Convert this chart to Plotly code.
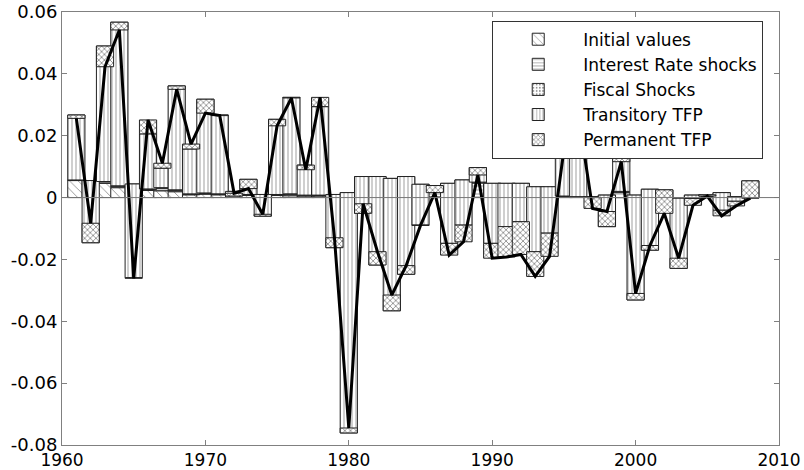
import numpy as np
import plotly.graph_objects as go

years = list(range(1961, 2009))

initial_values = [0.0055, 0.0050, 0.0046, 0.0032, 0.0034, 0.0023, 0.0022, 0.0019, 0.0009, 0.0011,
                  0.0009, 0.0011, 0.0007, 0.0007, 0.0007, 0.0006, 0.0005, 0.0005, 0.0005, 0.0004,
                  0.0004, 0.0003, 0.0003, 0.0003, 0.0002, 0.0002, 0.0002, 0.0002, 0.0001, 0.0001,
                  0.0001, 0.0001, 0.0001, 0.0001, 0.0001, 0.0001, 0.0, 0.0, 0.0, 0.0,
                  0.0, 0.0, 0.0, 0.0, 0.0, 0.0, 0.0, 0.0]

interest_rate = [0.0001, 0.0004, 0.0005, 0.0005, 0.0008, 0.0004, 0.0008, 0.0005, 0.0002, 0.0003,
                 0.0002, 0.0007, 0.0002, 0.0002, 0.0002, 0.0005, 0.0002, 0.0002, 0.0004, 0.0011,
                 0.0060, 0.0062, 0.0056, 0.0062, 0.0038, 0.0030, 0.0041, 0.0052, 0.0046, 0.0042,
                 0.0042, 0.0042, 0.0031, 0.0031, 0.0003, 0.0001, 0.0002, 0.0006, 0.0016, 0.0006,
                 0.0022, 0.0008, -0.0003, 0.0006, 0.0004, 0.0013, 0.0002, 0.0]

fiscal = [0.0001, 0.0001, 0.0001, 0.0001, 0.0002, 0.0001, 0.0002, 0.0001, 0.0001, 0.0001,
          0.0001, 0.0002, 0.0001, 0.0001, 0.0001, 0.0001, 0.0001, 0.0001, 0.0001, 0.0001,
          0.0004, 0.0003, 0.0003, 0.0003, 0.0003, 0.0003, 0.0003, 0.0003, 0.0003, 0.0003,
          0.0003, 0.0003, 0.0003, 0.0003, 0.0001, 0.0001, 0.0001, 0.0002, 0.0004, 0.0002,
          0.0005, 0.0002, 0.0001, 0.0002, 0.0001, 0.0003, 0.0001, 0.0]

transitory_tfp = [0.0210, -0.0201, 0.0438, 0.0529, -0.0303, 0.0178, 0.0063, 0.0336, 0.0145, 0.0303,
                  0.0255, -0.0015, 0.0049, -0.0070, 0.0243, 0.0312, 0.0097, 0.0286, -0.0172, -0.0777,
                  -0.0119, -0.0286, -0.0428, -0.0316, -0.0132, 0.0004, -0.0194, -0.0146, 0.0047, -0.0194,
                  -0.0140, -0.0124, -0.0210, -0.0150, 0.0122, 0.0297, -0.0003, -0.0102, 0.0166, -0.0339,
                  -0.0197, 0.0015, -0.0227, -0.0011, 0.0004, -0.0057, -0.0015, 0.0054]

permanent_tfp = [-0.0011, 0.0063, -0.0067, -0.0025, -0.0002, 0.0045, 0.0016, -0.0011, 0.0016, -0.0045,
                 -0.0002, 0.0009, -0.0030, 0.0006, -0.0021, -0.0002, -0.0015, 0.0030, 0.0032, 0.0016,
                 0.0031, 0.0043, 0.0051, 0.0028, -0.0001, -0.0023, -0.0038, -0.0054, -0.0024, -0.0048,
                 -0.0098, -0.0106, -0.0080, -0.0075, 0.0027, -0.0030, -0.0035, 0.0049, -0.0070, 0.0021,
                 0.0015, -0.0076, 0.0033, -0.0022, -0.0004, -0.0018, -0.0015, -0.0056]

series_names = ["Initial values", "Interest Rate shocks", "Fiscal Shocks", "Transitory TFP", "Permanent TFP"]
series_values = [initial_values, interest_rate, fiscal, transitory_tfp, permanent_tfp]
patterns = [
    dict(shape="\\", size=6, solidity=0.15),
    dict(shape="-", size=4, solidity=0.22),
    dict(shape=".", size=4, solidity=0.25),
    dict(shape="|", size=4, solidity=0.22),
    dict(shape="x", size=4, solidity=0.4),
]

y_tickvals = [0.06, 0.04, 0.02, 0.0, -0.02, -0.04, -0.06, -0.08]
y_ticktext = ["0.06", "0.04", "0.02", "0", "-0.02", "-0.04", "-0.06", "-0.08"]
x_tickvals = [1960, 1970, 1980, 1990, 2000, 2010]
x_ticktext = ["1960", "1970", "1980", "1990", "2000", "2010"]

FONT = "DejaVu Sans, Arial, sans-serif"

fig = go.Figure()
cum = np.zeros(len(years))
for name, vals, pat in zip(series_names, series_values, patterns):
    v = np.array(vals)
    fig.add_trace(go.Bar(
        x=years, y=v, base=cum.copy(), name=name, width=1.2, opacity=1,
        marker=dict(color="white",
                    line=dict(color="#222222", width=1),
                    pattern=dict(fgcolor="#222222", bgcolor="white", fillmode="overlay", **pat)),
    ))
    cum = cum + v

fig.add_trace(go.Scatter(x=years, y=cum, mode="lines", line=dict(color="black", width=3),
                         showlegend=False, hoverinfo="skip"))

fig.add_shape(type="line", xref="paper", x0=0, x1=1, yref="y", y0=0, y1=0,
              line=dict(color="#777777", width=1), layer="above")

axis_common = dict(showline=True, linecolor="#808080", linewidth=1, mirror="ticks",
                   ticks="inside", ticklen=5, tickcolor="#808080", showgrid=False, zeroline=False,
                   automargin=False)

fig.update_layout(
    template="none",
    width=804, height=470,
    margin=dict(l=62, r=25, t=12, b=25, pad=0),
    barmode="overlay",
    plot_bgcolor="white", paper_bgcolor="white",
    xaxis=dict(range=[1960, 2010], tickvals=x_tickvals, ticktext=x_ticktext,
               tickfont=dict(family=FONT, size=17, color="black"), **axis_common),
    yaxis=dict(range=[-0.08, 0.06], tickvals=y_tickvals, ticktext=y_ticktext,
               tickfont=dict(family=FONT, size=18, color="black"), **axis_common),
    legend=dict(x=0.978, y=0.98, xanchor="right", yanchor="top",
                bgcolor="white", bordercolor="#333333", borderwidth=1,
                font=dict(family=FONT, size=17, color="black"),
                itemwidth=80, tracegroupgap=0, traceorder="normal"),
    showlegend=True,
)

fig.write_html("out.html", config={"displayModeBar": False},
               post_script="document.body.style.margin='0px';document.body.style.overflow='hidden';")
